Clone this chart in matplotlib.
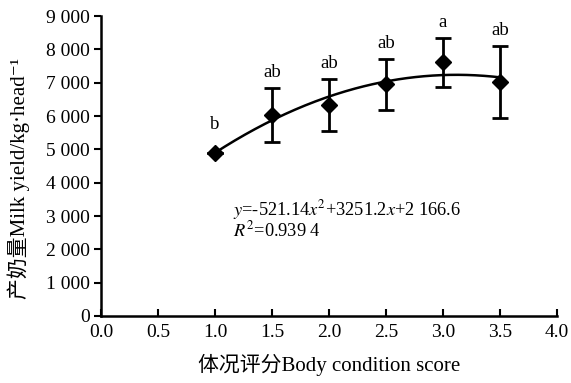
import matplotlib
matplotlib.use("Agg")
import matplotlib.pyplot as plt
import numpy as np

# data
scores = [1.0, 1.5, 2.0, 2.5, 3.0, 3.5]
milk_yield = [4880, 6030, 6330, 6950, 7620, 7030]
sd = [0, 810, 775, 760, 735, 1080]
letters = ["b", "ab", "ab", "ab", "a", "ab"]
coef = [-521.14, 3251.2, 2166.6]  # quadratic trendline coefficients
x_ticks = [0.0, 0.5, 1.0, 1.5, 2.0, 2.5, 3.0, 3.5, 4.0]
y_ticks = [0, 1000, 2000, 3000, 4000, 5000, 6000, 7000, 8000, 9000]
y_tick_labels = ["0", "1 000", "2 000", "3 000", "4 000", "5 000", "6 000", "7 000", "8 000", "9 000"]

plt.rcParams['font.family'] = ['Liberation Serif', 'Noto Sans CJK SC', 'DejaVu Sans']
plt.rcParams['mathtext.fontset'] = 'stix'

fig = plt.figure(figsize=(5.71, 3.83), dpi=100)
ax = fig.add_axes([0.177, 0.175, 0.798, 0.783])

xs = np.linspace(scores[0], scores[-1], 200)
ax.plot(xs, np.polyval(coef, xs), color='black', lw=1.8, zorder=2)
ax.errorbar(scores, milk_yield, yerr=sd, fmt='D', color='black', ms=8,
            ecolor='black', elinewidth=2, capsize=6, capthick=2, zorder=3)

for xv, yv, s, lab in zip(scores, milk_yield, sd, letters):
    off = 5 if s > 0 else 15
    ax.annotate(lab, (xv, yv + s), xytext=(0, off), textcoords='offset points',
                ha='center', va='bottom', fontsize=13.5)

ax.text(1.155, 3180, "$y$=-521.14$x^2$+3251.2$x$+2 166.6", fontsize=13.2, va='center', ha='left')
ax.text(1.155, 2560, "$R^2$=0.939 4", fontsize=13.2, va='center', ha='left')

ax.set_xlim(0, 4.0)
ax.set_ylim(0, 9000)
ax.set_xticks(x_ticks)
ax.set_xticklabels([f"{v:.1f}" for v in x_ticks])
ax.set_yticks(y_ticks)
ax.set_yticklabels(y_tick_labels)
ax.tick_params(axis='x', direction='in', length=5, width=1.5, labelsize=14, pad=6)
ax.tick_params(axis='y', direction='out', length=5, width=1.5, labelsize=14, pad=3)
for side in ['top', 'right']:
    ax.spines[side].set_visible(False)
for side in ['left', 'bottom']:
    ax.spines[side].set_linewidth(1.8)

ax.set_xlabel("体况评分Body condition score", fontsize=15, labelpad=9)
ax.set_ylabel("产奶量Milk yield/kg·head⁻¹", fontsize=15)
ax.yaxis.set_label_coords(-0.155, 0.46)

fig.savefig("out.png", dpi=100)
